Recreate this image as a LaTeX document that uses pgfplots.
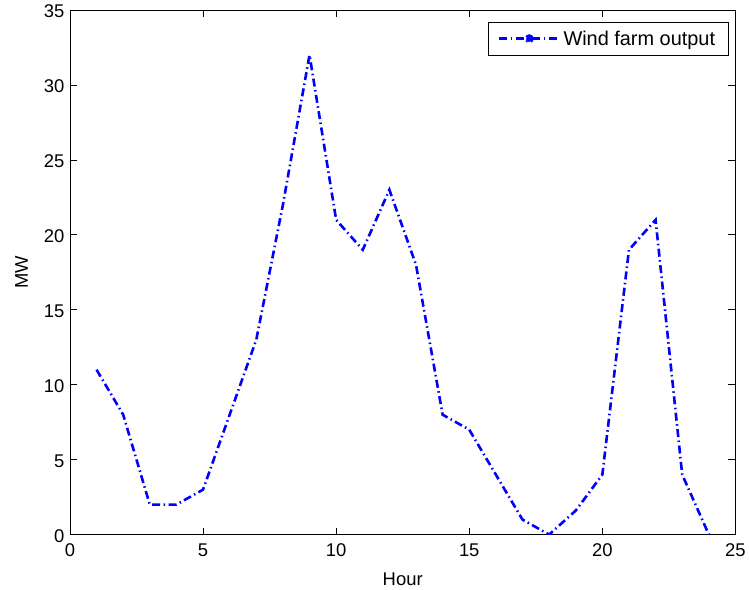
\documentclass[border=0pt]{standalone}
\usepackage{pgfplots}
\pgfplotsset{compat=1.18}
\usepackage{fontspec}
\setmainfont{Liberation Sans}
\definecolor{mblue}{rgb}{0,0,1}
\begin{document}
\begin{tikzpicture}
\begin{axis}[
  name=ax,
  scale only axis,
  width=666bp, height=525bp,
  xmin=0, xmax=25, ymin=0, ymax=35,
  xtick={0,5,...,25}, ytick={0,5,...,35},
  tick align=inside,
  major tick length=7bp,
  tick style={black, line width=0.7bp},
  axis line style={black, line width=0.7bp},
  /pgf/number format/assume math mode=true,
  ticklabel style={font=\fontsize{18.5}{20}\selectfont},
  yticklabel style={xshift=-2bp, yshift=-1.5bp},
  xticklabel style={yshift=-6bp},
  label style={font=\fontsize{18.5}{20}\selectfont},
  xlabel={Hour}, ylabel={MW},
  xlabel style={at={(axis description cs:0.5,-0.0966)}, anchor=base},
  ylabel style={at={(axis description cs:-0.0631,0.5)}, anchor=base},
  legend style={at={(axis description cs:0.9895,0.977)}, anchor=north east, draw=black, line width=0.7bp,
    font=\fontsize{20}{22}\selectfont, inner xsep=10bp, inner ysep=5.4bp,
    nodes={inner sep=3bp}},
  legend cell align=left,
]
\addplot[color=mblue, line width=2.6bp, dash pattern=on 8bp off 3.5bp on 1.5bp off 3.5bp,
  legend image code/.code={
    \draw[mblue, line width=2.6bp, dash pattern=on 8bp off 3.5bp on 1.5bp off 3.5bp] (0bp,0bp) -- (60bp,0bp);
    \fill[mblue] (30bp,0bp) circle (3.2bp);
  }]
coordinates {
(1,11) (2,8) (3,2) (4,2) (5,3) (6,8) (7,13) (8,22) (9,32) (10,21) (11,19) (12,23)
(13,18) (14,8) (15,7) (16,4) (17,1) (18,0) (19,1.6) (20,4) (21,19) (22,21) (23,4) (24,0)
};
\addlegendentry{Wind farm output}
\end{axis}
\path ([xshift=-70bp,yshift=-55bp]ax.south west) rectangle ([xshift=13bp,yshift=10bp]ax.north east);
\end{tikzpicture}
\end{document}
